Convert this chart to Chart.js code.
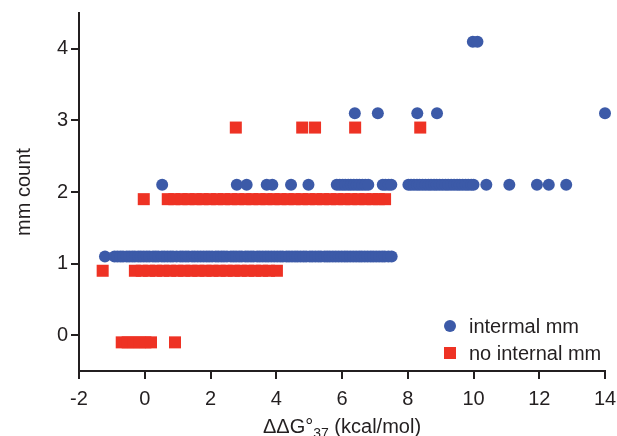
<!DOCTYPE html>
<html>
<head>
<meta charset="utf-8">
<script src="https://cdn.jsdelivr.net/npm/chart.js@4.4.1/dist/chart.umd.min.js"></script>
<style>
    html, body { margin: 0; padding: 0; background: #fff; }
    #wrap { width: 617px; height: 436px; }
</style>
</head>
<body>
<div id="wrap"><canvas id="mmChart" width="617" height="436"></canvas></div>
<script>
// ddG37 values (kcal/mol), grouped by mm count
var internalMm1 = [-1.21, -0.92, -0.83, -0.74, -0.66, -0.55, -0.47, -0.38, -0.30, -0.20, -0.12, -0.03,
    0.06, 0.14, 0.25, 0.33, 0.41, 0.52, 0.60, 0.69, 0.78, 0.86, 0.97, 1.08, 1.16, 1.25, 1.33, 1.44,
    1.52, 1.61, 1.70, 1.79, 1.88, 1.96, 2.05, 2.16, 2.24, 2.33, 2.41, 2.50, 2.62, 2.70, 2.78, 2.87,
    2.95, 3.06, 3.14, 3.23, 3.31, 3.42, 3.50, 3.59, 3.68, 3.76, 3.85, 3.94, 4.03, 4.12, 4.20, 4.31,
    4.39, 4.48, 4.57, 4.65, 4.74, 4.83, 4.91, 5.02, 5.10, 5.19, 5.28, 5.36, 5.47, 5.55, 5.63, 5.72,
    5.81, 5.90, 5.99, 6.08, 6.16, 6.25, 6.34, 6.43, 6.52, 6.60, 6.69, 6.78, 6.87, 6.95, 7.04, 7.13,
    7.22, 7.30, 7.41, 7.51];
var internalMm2 = [0.53, 2.80, 3.10, 3.71, 3.88, 4.45, 4.98, 5.84, 5.93, 6.02, 6.10, 6.19, 6.27, 6.36,
    6.45, 6.53, 6.62, 6.71, 6.80, 7.24, 7.32, 7.42, 7.50, 8.02, 8.10, 8.19, 8.28, 8.36, 8.45, 8.54,
    8.63, 8.71, 8.80, 8.88, 8.97, 9.06, 9.15, 9.23, 9.32, 9.41, 9.50, 9.58, 9.67, 9.76, 9.84, 9.93,
    10.00, 10.39, 11.09, 11.93, 12.29, 12.82];
var internalMm3 = [6.39, 7.09, 8.29, 8.89, 14.0];
var internalMm4 = [9.98, 10.12];

var noInternalMm0 = [-0.70, -0.52, -0.34, -0.16, 0.02, 0.19, 0.92];
var noInternalMm1 = [-1.28, -0.30, -0.09, 0.13, 0.34, 0.56, 0.77, 0.99, 1.20, 1.42, 1.63, 1.85, 2.06,
    2.28, 2.49, 2.71, 2.92, 3.14, 3.35, 3.57, 3.78, 4.02];
var noInternalMm2 = [-0.03, 0.70, 0.90, 1.12, 1.33, 1.55, 1.76, 1.98, 2.20, 2.41, 2.63, 2.84, 3.06,
    3.27, 3.49, 3.70, 3.92, 4.13, 4.35, 4.56, 4.78, 4.99, 5.21, 5.42, 5.64, 5.85, 6.07, 6.28, 6.50,
    6.71, 6.93, 7.12, 7.31];
var noInternalMm3 = [2.77, 4.79, 5.18, 6.40, 8.38];

var countTicks = [0, 1, 2, 3, 4];
var seriesLabels = ['intermal mm', 'no internal mm'];
var xTitleParts = ['\u0394\u0394G\u00b0', '37', ' (kcal/mol)'];
var yTitle = 'mm count';

var INK = '#231f20';
var BLUE = '#3c5aa8';
var RED = '#ee3224';
var FONT = "'Liberation Sans', Arial, Helvetica, sans-serif";

// the two groups are nudged apart so they do not sit on each other
function toPoints(xs, count, shift) {
    return xs.map(function (x) {
        return { x: x, y: count + shift };
    });
}

var bluePoints = [].concat(
    toPoints(internalMm1, 1, 0.1),
    toPoints(internalMm2, 2, 0.1),
    toPoints(internalMm3, 3, 0.1),
    toPoints(internalMm4, 4, 0.1)
);
var redPoints = [].concat(
    toPoints(noInternalMm0, 0, -0.1),
    toPoints(noInternalMm1, 1, -0.1),
    toPoints(noInternalMm2, 2, -0.1),
    toPoints(noInternalMm3, 3, -0.1)
);

var xTitlePlugin = {
    id: 'xTitle',
    afterDraw: function (chart) {
        var ctx = chart.ctx;
        var area = chart.chartArea;
        var sizes = [20, 14, 20];
        var shifts = [0, 5, 0];
        var total = 0;
        var widths = [];
        ctx.save();
        xTitleParts.forEach(function (t, i) {
            ctx.font = sizes[i] + 'px ' + FONT;
            widths.push(ctx.measureText(t).width);
            total += widths[i];
        });
        var x = (area.left + area.right) / 2 - total / 2;
        var baseline = 433;
        ctx.fillStyle = INK;
        ctx.textBaseline = 'alphabetic';
        ctx.textAlign = 'left';
        xTitleParts.forEach(function (t, i) {
            ctx.font = sizes[i] + 'px ' + FONT;
            ctx.fillText(t, x, baseline + shifts[i]);
            x += widths[i];
        });
        ctx.restore();
    }
};

var legendPlugin = {
    id: 'cornerLegend',
    afterDraw: function (chart) {
        var ctx = chart.ctx;
        var mx = 450;
        var rows = [326, 353];
        ctx.save();
        ctx.font = '20px ' + FONT;
        ctx.textBaseline = 'middle';
        ctx.textAlign = 'left';

        ctx.fillStyle = BLUE;
        ctx.beginPath();
        ctx.arc(mx, rows[0], 6, 0, Math.PI * 2);
        ctx.fill();

        ctx.fillStyle = RED;
        ctx.fillRect(mx - 6, rows[1] - 6, 12, 12);

        ctx.fillStyle = INK;
        ctx.fillText(seriesLabels[0], 469, rows[0] + 1);
        ctx.fillText(seriesLabels[1], 469, rows[1] + 1);
        ctx.restore();
    }
};

Chart.defaults.font.family = FONT;
Chart.defaults.color = INK;

new Chart(document.getElementById('mmChart'), {
    type: 'scatter',
    data: {
        datasets: [
            {
                label: seriesLabels[0],
                data: bluePoints,
                pointStyle: 'circle',
                pointRadius: 6,
                pointHoverRadius: 6,
                borderWidth: 0,
                backgroundColor: BLUE,
                borderColor: BLUE,
                clip: false
            },
            {
                label: seriesLabels[1],
                data: redPoints,
                pointStyle: 'rect',
                pointRadius: 8.5,
                pointHoverRadius: 8.5,
                borderWidth: 0,
                backgroundColor: RED,
                borderColor: RED,
                clip: false
            }
        ]
    },
    options: {
        responsive: false,
        animation: false,
        devicePixelRatio: 1,
        layout: { padding: { top: 13, right: 12, left: 0, bottom: 0 } },
        plugins: {
            legend: { display: false },
            tooltip: { enabled: false }
        },
        scales: {
            x: {
                type: 'linear',
                min: -2,
                max: 14,
                ticks: { stepSize: 2, font: { size: 20 }, color: INK, padding: 8, maxRotation: 0 },
                grid: { drawOnChartArea: false, drawTicks: true, tickLength: 8, color: INK, lineWidth: 2 },
                border: { display: true, color: INK, width: 2 },
                afterFit: function (scale) {
                    scale.height = 65;
                    scale.paddingLeft = 0;
                    scale.paddingRight = 0;
                }
            },
            y: {
                type: 'linear',
                min: -0.5,
                max: 4.5,
                afterBuildTicks: function (scale) {
                    scale.ticks = countTicks.map(function (v) { return { value: v }; });
                },
                ticks: { font: { size: 20 }, color: INK, padding: 3 },
                grid: { drawOnChartArea: false, drawTicks: true, tickLength: 8, color: INK, lineWidth: 2 },
                border: { display: true, color: INK, width: 2 },
                title: {
                    display: true,
                    text: yTitle,
                    font: { size: 20 },
                    color: INK,
                    padding: { top: 12, bottom: 0 }
                },
                afterFit: function (scale) {
                    scale.width = 79;
                    scale.paddingTop = 0;
                    scale.paddingBottom = 0;
                }
            }
        }
    },
    plugins: [xTitlePlugin, legendPlugin]
});
</script>
</body>
</html>
